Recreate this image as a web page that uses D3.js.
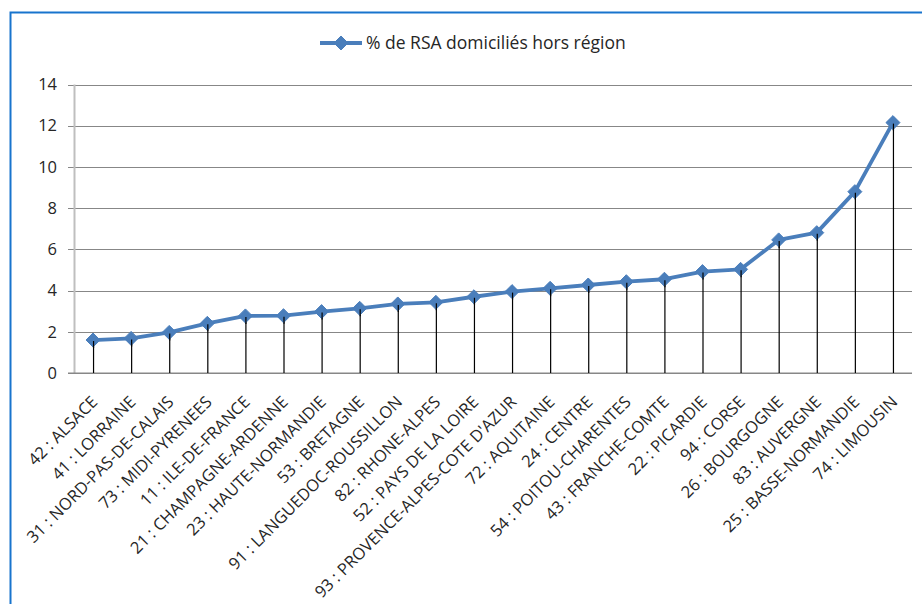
<!DOCTYPE html>
<html>
<head>
<meta charset="utf-8">
<script src="https://cdn.jsdelivr.net/npm/d3@7"></script>
<style>
  html, body { margin: 0; padding: 0; background: #fff; }
  svg { display: block; }
  text { font-family: "Open Sans", "Liberation Sans", sans-serif; fill: #262626; }
</style>
</head>
<body>
<svg id="chart" width="922" height="604"></svg>
<script>
const categories = [
  "42 : ALSACE", "41 : LORRAINE", "31 : NORD-PAS-DE-CALAIS", "73 : MIDI-PYRENEES",
  "11 : ILE-DE-FRANCE", "21 : CHAMPAGNE-ARDENNE", "23 : HAUTE-NORMANDIE", "53 : BRETAGNE",
  "91 : LANGUEDOC-ROUSSILLON", "82 : RHONE-ALPES", "52 : PAYS DE LA LOIRE",
  "93 : PROVENCE-ALPES-COTE D'AZUR", "72 : AQUITAINE", "24 : CENTRE", "54 : POITOU-CHARENTES",
  "43 : FRANCHE-COMTE", "22 : PICARDIE", "94 : CORSE", "26 : BOURGOGNE", "83 : AUVERGNE",
  "25 : BASSE-NORMANDIE", "74 : LIMOUSIN"
];
const values = [
  1.60, 1.68, 1.97, 2.41, 2.77, 2.78, 2.98, 3.14, 3.35, 3.43, 3.70,
  3.95, 4.11, 4.27, 4.43, 4.55, 4.92, 5.03, 6.46, 6.81, 8.80, 12.15
];
const yTicks = [0, 2, 4, 6, 8, 10, 12, 14];
const seriesName = "% de RSA domiciliés hors région";

const svg = d3.select("#chart");
const blue = "#4A7EBB";

// outer frame
svg.append("path")
  .attr("d", "M10.5,604 L10.5,12.5 L922,12.5")
  .attr("fill", "none").attr("stroke", "#1874CD").attr("stroke-width", 2);

const x = d3.scalePoint().domain(categories).range([74, 912]).padding(0.5);
const y = d3.scaleLinear().domain([0, 14]).range([373, 84.5]);

// gridlines + y axis
const yAxis = d3.axisLeft(y).tickValues(yTicks).tickSize(-(912 - 68)).tickPadding(10).tickFormat(d3.format("d"));
const gy = svg.append("g").attr("transform", "translate(68,0)").call(yAxis);
gy.select(".domain").remove();
gy.selectAll(".tick line").attr("stroke", "#878787").attr("stroke-width", 1)
  .attr("shape-rendering", "crispEdges");
gy.selectAll(".tick text").attr("font-size", 16.5).attr("fill", "#262626")
  .style("font-family", "'Open Sans', sans-serif").attr("x", -11);

// vertical axis line
svg.append("line").attr("x1", 74.5).attr("x2", 74.5).attr("y1", y(14)).attr("y2", y(0))
  .attr("stroke", "#BFBFBF").attr("stroke-width", 2);

// x axis line
svg.append("line").attr("x1", 68).attr("x2", 912).attr("y1", y(0)).attr("y2", y(0))
  .attr("stroke", "#878787").attr("stroke-width", 1.2);

// x labels
const xAxis = d3.axisBottom(x).tickSize(0).tickPadding(0);
const gx = svg.append("g").attr("transform", `translate(0,${y(0)})`).call(xAxis);
gx.select(".domain").remove();
gx.selectAll(".tick text")
  .attr("font-size", 16.5)
  .attr("fill", "#262626")
  .style("font-family", "'Open Sans', sans-serif")
  .attr("text-anchor", "end")
  .attr("dy", null)
  .attr("y", 0)
  .attr("transform", "translate(5,30) rotate(-45)");

// drop lines
svg.append("g").selectAll("line").data(values).join("line")
  .attr("x1", (d, i) => x(categories[i]) + 0.5)
  .attr("x2", (d, i) => x(categories[i]) + 0.5)
  .attr("y1", d => y(d)).attr("y2", y(0))
  .attr("stroke", "#000").attr("stroke-width", 1.2);

// line
const line = d3.line().x((d, i) => x(categories[i])).y(d => y(d));
svg.append("path").datum(values).attr("d", line)
  .attr("fill", "none").attr("stroke", blue).attr("stroke-width", 3.8)
  .attr("stroke-linejoin", "round");

// markers
const diamond = d3.symbol().type(d3.symbolDiamond2).size(125);
svg.append("g").selectAll("path").data(values).join("path")
  .attr("d", diamond)
  .attr("transform", (d, i) => `translate(${x(categories[i])},${y(d)})`)
  .attr("fill", blue).attr("stroke", blue).attr("stroke-width", 1);

// drop line stubs on top of markers
svg.append("g").selectAll("line").data(values).join("line")
  .attr("x1", (d, i) => x(categories[i]) + 0.5)
  .attr("x2", (d, i) => x(categories[i]) + 0.5)
  .attr("y1", d => y(d) + 1).attr("y2", d => y(d) + 8)
  .attr("stroke", "#000").attr("stroke-width", 1.2);

// legend
const lg = svg.append("g").attr("transform", "translate(320,43)");
lg.append("line").attr("x1", 0).attr("x2", 42).attr("y1", 0).attr("y2", 0)
  .attr("stroke", blue).attr("stroke-width", 3.8);
lg.append("path").attr("d", diamond).attr("transform", "translate(21,0)")
  .attr("fill", blue).attr("stroke", blue);
lg.append("text").attr("x", 46).attr("y", 6).attr("font-size", 17.5).text(seriesName);
</script>
</body>
</html>
